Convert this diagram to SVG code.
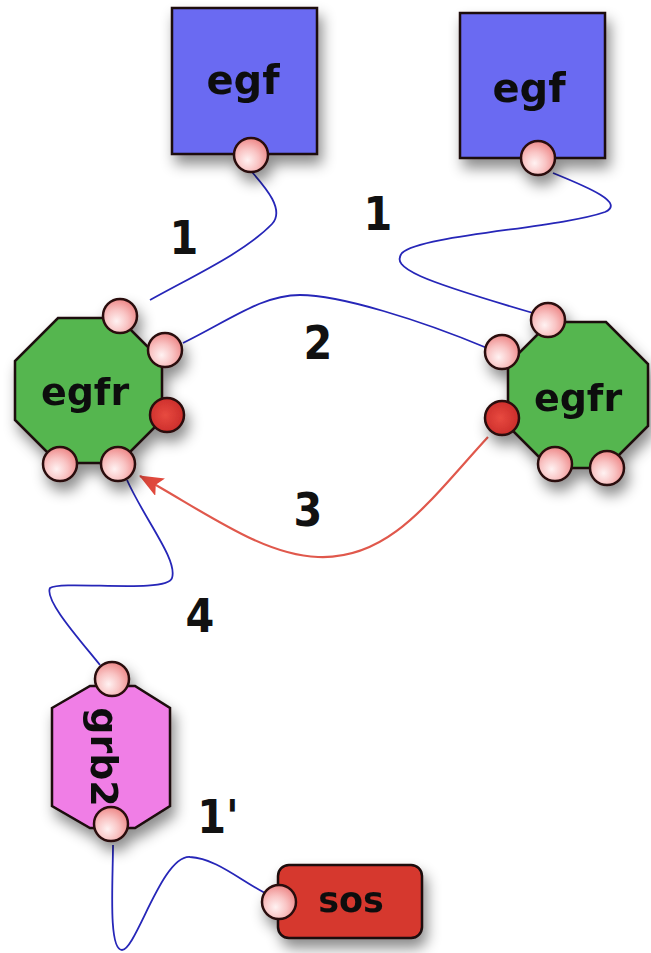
<svg xmlns="http://www.w3.org/2000/svg" width="651" height="953" viewBox="0 0 651 953">
<style>
.node{stroke:#1a0a0a;stroke-width:2.5;}
.egf{fill:#6a6af2;}
.egfr{fill:#55b650;}
.grb2{fill:#f07ee6;}
.sos{fill:#d6392f;}
.site{fill:url(#siteGrad);stroke:#2a0e0e;stroke-width:2.5;}
.rsite{fill:url(#redGrad);stroke:#2a0e0e;stroke-width:2.5;}
.name{font-family:"DejaVu Sans",sans-serif;font-weight:bold;fill:#111;text-anchor:middle;dominant-baseline:central;}
.lbl{font-family:"DejaVu Sans Condensed","DejaVu Sans",sans-serif;font-stretch:condensed;font-weight:bold;fill:#111;text-anchor:middle;dominant-baseline:central;font-size:46px;}
.link{fill:none;stroke:#2626b8;stroke-width:1.8;}
.act{fill:none;stroke:#e0584c;stroke-width:2.2;}
</style>
<defs>
<radialGradient id="siteGrad" cx="40%" cy="65%" r="65%">
<stop offset="0" stop-color="#fff2f2"/>
<stop offset="0.5" stop-color="#f9c4c4"/>
<stop offset="1" stop-color="#ee8a8a"/>
</radialGradient>
<radialGradient id="redGrad" cx="45%" cy="50%" r="60%">
<stop offset="0" stop-color="#e84a40"/>
<stop offset="1" stop-color="#c82a28"/>
</radialGradient>
<filter id="shadow" x="-30%" y="-30%" width="160%" height="170%">
<feDropShadow dx="4" dy="9" stdDeviation="7" flood-color="#000" flood-opacity="0.45"/>
</filter>
<marker id="arrowBig" viewBox="0 0 24 20" refX="23" refY="10" markerWidth="24" markerHeight="20" markerUnits="userSpaceOnUse" orient="auto">
<path d="M0,0 L24,10 L0,20 L5,10 Z" fill="#e0483c"/>
</marker>
</defs>
<rect width="651" height="953" fill="#ffffff"/>

<g id="connectors">
<path class="link" d="M252,172 C266,188 285,210 272,224 C245,252 195,275 150,300"/>
<path class="link" d="M553,173 C590,188 625,203 605,212 C560,228 420,235 402,253 C390,268 420,280 533,313"/>
<path class="link" d="M183,343 C230,320 262,295 300,295 C340,295 420,320 487,348"/>
<path class="act" d="M488,437 C430,500 390,560 318,557 C262,555 205,512 140,476" marker-end="url(#arrowBig)"/>
<path class="link" d="M127,480 C145,520 178,560 172,578 C168,594 62,580 50,588 C44,600 80,640 100,665"/>
<path class="link" d="M113,845 C113,880 108,950 122,950 C136,950 162,855 190,857 C215,858 240,880 265,893"/>
</g>

<g id="egf1" filter="url(#shadow)">
<rect class="node egf" x="172" y="8" width="145" height="146"/>
<text class="name" x="243" y="80" font-size="40">egf</text>
<circle class="site" cx="251" cy="155" r="17"/>
</g>

<g id="egf2" filter="url(#shadow)">
<rect class="node egf" x="460" y="13" width="145" height="145"/>
<text class="name" x="529" y="88" font-size="40">egf</text>
<circle class="site" cx="538" cy="158" r="17"/>
</g>

<g id="egfr1" filter="url(#shadow)">
<polygon class="node egfr" points="58,318 119,318 162,361 162,420 119,463 58,463 15,420 15,361"/>
<text class="name" x="85" y="392" font-size="38">egfr</text>
<circle class="site" cx="120" cy="316" r="17"/>
<circle class="site" cx="165" cy="350" r="17"/>
<circle class="rsite" cx="167" cy="415" r="17"/>
<circle class="site" cx="60" cy="464" r="17"/>
<circle class="site" cx="118" cy="464" r="17"/>
</g>

<g id="egfr2" filter="url(#shadow)">
<polygon class="node egfr" points="550,322 606,322 648,364 648,426 606,468 550,468 508,426 508,364"/>
<text class="name" x="578" y="398" font-size="38">egfr</text>
<circle class="site" cx="548" cy="320" r="17"/>
<circle class="site" cx="502" cy="352" r="17"/>
<circle class="rsite" cx="502" cy="418" r="17"/>
<circle class="site" cx="555" cy="464" r="17"/>
<circle class="site" cx="607" cy="468" r="17"/>
</g>

<g id="grb2" filter="url(#shadow)">
<polygon class="node grb2" points="52,708 90,686 135,686 170,708 170,806 135,828 90,828 52,806"/>
<text class="name" x="0" y="0" font-size="38" transform="translate(104,757) rotate(90)">grb2</text>
<circle class="site" cx="112" cy="679" r="17"/>
<circle class="site" cx="111" cy="824" r="17"/>
</g>

<g id="sos" filter="url(#shadow)">
<rect class="node sos" x="278" y="865" width="144" height="73" rx="11" ry="11"/>
<text class="name" x="351" y="900" font-size="35">sos</text>
<circle class="site" cx="279" cy="902" r="17"/>
</g>

<g id="labels">
<text class="lbl" x="184" y="238">1</text>
<text class="lbl" x="378" y="214">1</text>
<text class="lbl" x="318" y="343">2</text>
<text class="lbl" x="308" y="510">3</text>
<text class="lbl" x="200" y="616">4</text>
<text class="lbl" x="218" y="817">1'</text>
</g>
</svg>
